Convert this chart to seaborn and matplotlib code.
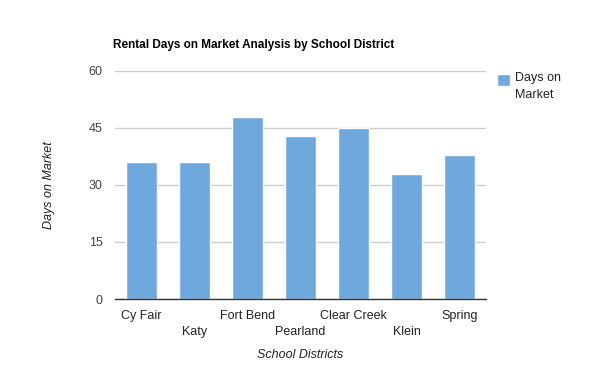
import matplotlib
matplotlib.use("Agg")
import matplotlib.pyplot as plt
import matplotlib.patches as mpatches
from matplotlib.legend_handler import HandlerPatch
import seaborn as sns
import pandas as pd

districts = ["Cy Fair", "Katy", "Fort Bend", "Pearland", "Clear Creek", "Klein", "Spring"]
days_on_market = [36, 36, 48, 43, 45, 33, 38]
y_ticks = [0, 15, 30, 45, 60]
series_name = "Days on\nMarket"

df = pd.DataFrame({"district": districts, "days": days_on_market})

sns.set_theme(style="white")
plt.rcParams["font.family"] = ["Liberation Sans", "DejaVu Sans"]

fig = plt.figure(figsize=(6.0, 3.71), dpi=100)
ax = fig.add_axes([115/600, 1-299/371, (486-115)/600, (299-71)/371])

sns.barplot(data=df, x="district", y="days", color="#6fa8dc", saturation=1,
            width=0.6, ax=ax, label=series_name, errorbar=None)
if ax.get_legend() is not None:
    ax.get_legend().remove()

ax.set_ylim(0, 60)
ax.set_xlim(-0.5, len(districts) - 0.5)
ax.set_yticks(y_ticks)
ax.set_yticklabels([str(v) for v in y_ticks], color="#444444", fontsize=9)
ax.yaxis.grid(True, color="#cccccc", linewidth=1)
ax.set_axisbelow(True)

labels = [d if i % 2 == 0 else "\n" + d for i, d in enumerate(districts)]
ax.set_xticks(range(len(districts)))
ax.set_xticklabels(labels, color="#222222", fontsize=9, linespacing=1.45)
ax.tick_params(axis="x", length=0, pad=8)
ax.tick_params(axis="y", length=0, pad=9)

for s in ["top", "right", "left"]:
    ax.spines[s].set_visible(False)
ax.spines["bottom"].set_color("#333333")
ax.spines["bottom"].set_linewidth(1)

ax.set_xlabel("School Districts", fontstyle="italic", color="#222222", fontsize=9, labelpad=8)
ax.set_ylabel("Days on Market", fontstyle="italic", color="#222222", fontsize=9, labelpad=24)

fig.text(113/600, 1-45/371, "Rental Days on Market Analysis by School District",
         fontweight="bold", fontsize=8.5, color="#000000", ha="left", va="center")


def top_square(legend, orig_handle, xdescent, ydescent, width, height, fontsize):
    side = 9.0
    return mpatches.Rectangle((-xdescent, -ydescent + height - side + 5.0), side, side)


h, l = ax.get_legend_handles_labels()
bar_patch = ax.containers[0].patches[0]
leg = fig.legend([bar_patch], l[:1], loc="upper left", bbox_to_anchor=(497/600, 1-72/371),
                 frameon=False, fontsize=9, handlelength=1.0, handleheight=1.0,
                 handletextpad=0.45, borderaxespad=0, borderpad=0,
                 handler_map={mpatches.Rectangle: HandlerPatch(patch_func=top_square)})
for t in leg.get_texts():
    t.set_color("#222222")
    t.set_linespacing(1.5)

fig.savefig("out.png", dpi=100)
